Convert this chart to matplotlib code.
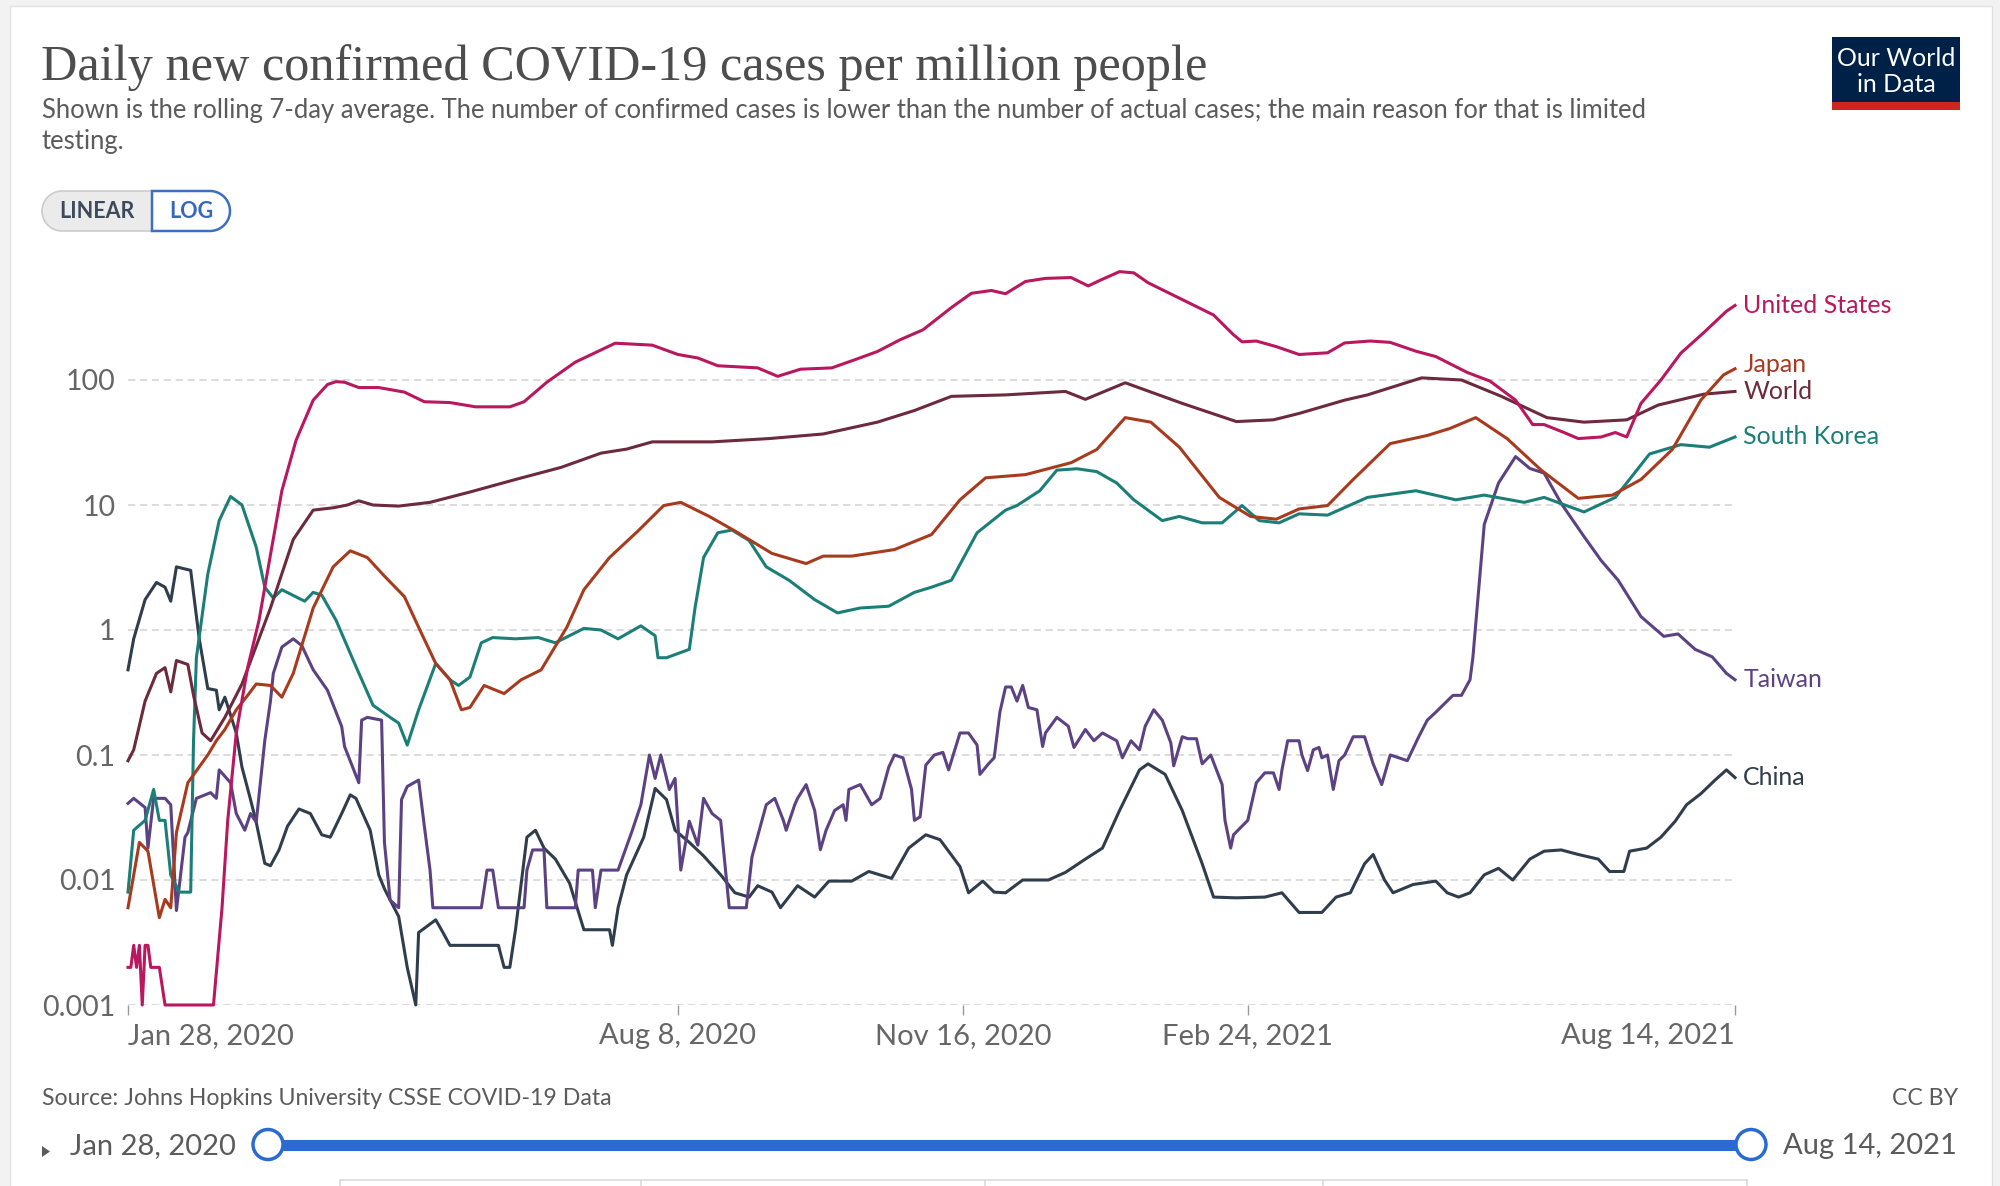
import matplotlib.pyplot as plt
import matplotlib.dates as mdates
from matplotlib.patches import Rectangle, Circle, Polygon
from matplotlib.ticker import NullLocator
import numpy as np

plt.rcParams['font.family'] = ['Lato', 'DejaVu Sans']

start = np.datetime64('2020-01-28')
end = np.datetime64('2021-08-14')

# daily new confirmed cases per million (7-day avg)
# days = days since Jan 28, 2020
us_days = [0, 1, 2, 3, 4, 5, 6, 7, 8, 11, 13, 30, 33, 35, 38, 42, 46, 50, 54, 59, 65,
           70, 73, 76, 81, 88, 97, 104, 113, 122, 134, 139, 147, 157, 171, 184, 193, 200,
           207, 221, 228, 236, 247, 255, 263, 271, 279, 289, 296, 303, 308, 315, 322, 331,
           337, 342, 348, 353, 358, 370, 381, 388, 391, 396, 403, 411, 421, 427, 436, 443,
           452, 459, 470, 478, 487, 493, 497, 504, 509, 517, 522, 526, 531, 538, 545, 553,
           561, 564]
us_vals = [0.002, 0.002, 0.003, 0.002, 0.003, 0.001, 0.003, 0.003, 0.002, 0.002, 0.001,
           0.001, 0.006, 0.03, 0.15, 0.5, 1.2, 4, 13, 33, 69,
           92, 97, 96, 87, 87, 80, 67, 66, 61, 61, 67, 96, 139, 197, 190, 160, 150,
           130, 125, 107, 122, 125, 145, 169, 210, 252, 380, 494, 520, 490, 614, 650, 660,
           566, 640, 736, 720, 600, 440, 331, 230, 202, 205, 185, 160, 165, 198, 205, 200,
           170, 154, 115, 98, 69, 44, 44, 38, 34, 35, 38, 35, 65, 100, 164, 239,
           355, 395]

japan_days = [0, 4, 7, 11, 13, 15, 17, 21, 28, 31, 34, 38, 42, 45, 50, 54, 58, 65, 72, 78,
              84, 90, 97, 103, 108, 113, 117, 120, 125, 132, 138, 145, 154, 160, 169, 179,
              188, 194, 204, 213, 226, 238, 244, 254, 269, 282, 292, 301, 315, 331, 340,
              350, 359, 369, 383, 394, 403, 411, 421, 430, 443, 456, 464, 473, 484, 496,
              509, 521, 531, 542, 552, 560, 564]
japan_vals = [0.006, 0.02, 0.017, 0.005, 0.007, 0.006, 0.024, 0.06, 0.1, 0.13, 0.16, 0.23,
              0.3, 0.37, 0.36, 0.29, 0.45, 1.5, 3.2, 4.3,
              3.8, 2.7, 1.85, 0.94, 0.54, 0.4, 0.23, 0.24, 0.36, 0.31, 0.4, 0.48, 1.05, 2.1,
              3.8, 6.2, 9.9, 10.5, 8.1, 6.2, 4.1, 3.4, 3.9, 3.9, 4.4, 5.8, 11, 16.5, 17.5,
              21.8, 27.8, 50, 46, 29, 11.5, 8.1, 7.7, 9.3, 9.9, 16, 31, 36, 41, 50, 34, 19,
              11.3, 12, 16, 27.8, 69, 110, 123]

world_days = [0, 2, 6, 10, 13, 15, 17, 21, 23, 26, 29, 34, 40, 50, 58, 65, 72, 77, 81, 86,
              95, 106, 120, 136, 152, 166, 175, 184, 205, 225, 244, 263, 276, 289, 308, 329,
              336, 350, 370, 389, 402, 411, 427, 435, 454, 468, 482, 498, 511, 526, 537,
              553, 564]
world_vals = [0.09, 0.11, 0.27, 0.45, 0.5, 0.32, 0.57, 0.53, 0.3, 0.15, 0.13, 0.2, 0.37,
              1.5, 5.3, 9.1, 9.5, 10, 10.8, 10,
              9.8, 10.5, 12.7, 16, 20, 26, 28, 32, 32, 34, 37, 46, 57, 74, 76, 81,
              70, 95, 65, 46.5, 48, 54, 69, 76, 104, 100, 74, 50, 46, 48, 63,
              77, 81]

korea_days = [0, 2, 6, 9, 11, 13, 15, 18, 22, 23, 24, 28, 32, 36, 40, 45, 48, 51, 54, 62,
              65, 68, 73, 80, 86, 92, 95, 98, 102, 108, 113, 116, 120, 124, 128, 136, 144,
              150, 160, 166, 172, 180, 185, 186, 189, 197, 199, 202, 207, 212, 218, 224,
              232, 241, 249, 257, 267, 276, 282, 289, 298, 308, 312, 320, 326, 333, 340,
              347, 353, 363, 369, 377, 384, 391, 397, 404, 411, 421, 435, 452, 466, 476,
              490, 497, 511, 522, 534, 545, 555, 564]
korea_vals = [0.008, 0.025, 0.03, 0.053, 0.03, 0.03, 0.011, 0.008, 0.008, 0.13, 0.6, 2.8,
              7.5, 11.7, 10, 4.6, 2.2, 1.8, 2.1, 1.7,
              2.0, 1.9, 1.2, 0.51, 0.25, 0.2, 0.18, 0.12, 0.23, 0.54, 0.4, 0.36, 0.42, 0.79,
              0.87, 0.85, 0.87, 0.79, 1.03, 1.0, 0.85, 1.08, 0.9, 0.6, 0.6, 0.7, 1.5, 3.8,
              6.0, 6.3, 5.2, 3.2, 2.5, 1.75, 1.37, 1.5, 1.55, 2.0, 2.2, 2.5, 6.0, 9.1, 9.9,
              13, 19, 19.5, 18.5, 15, 11, 7.5, 8.1, 7.2, 7.2, 9.9, 7.5, 7.2, 8.5, 8.3, 11.5,
              13, 11, 12, 10.5, 11.5, 8.8, 11.5, 25.6, 30.4, 29, 35]

taiwan_days = [0, 2, 6, 7, 9, 13, 15, 17, 20, 21, 24, 29, 31, 32, 36, 38, 41, 43, 45, 48,
               50, 51, 54, 58, 61, 65, 70, 75, 76, 81, 82, 84, 89, 90, 92, 95, 96, 98, 102,
               104, 106, 107, 124, 126, 128, 130, 139, 140, 142, 146, 147, 157, 158, 163,
               164, 166, 172, 177, 180, 183, 185, 187, 190, 192, 194, 197, 200, 202, 205,
               208, 211, 217, 219, 224, 227, 230, 231, 234, 235, 238, 241, 243, 245, 248,
               251, 252, 253, 257, 261, 264, 267, 269, 272, 275, 276, 278, 280, 283, 286,
               288, 292, 295, 298, 299, 302, 304, 306, 308, 310, 312, 314, 316, 319, 321,
               322, 326, 330, 332, 336, 339, 342, 347, 349, 352, 355, 357, 360, 363, 366,
               367, 370, 372, 375, 377, 380, 384, 385, 387, 388, 393, 396, 399, 402, 404,
               405, 407, 411, 412, 414, 416, 418, 419, 421, 423, 425, 427, 430, 434, 437,
               440, 443, 446, 449, 453, 456, 459, 465, 468, 471, 472, 475, 476, 481, 487,
               492, 497, 503, 511, 517, 523, 531, 539, 544, 550, 556, 561, 564]
taiwan_vals = [0.041, 0.045, 0.038, 0.018, 0.045, 0.045, 0.04, 0.0057, 0.022, 0.024, 0.045,
               0.05, 0.045, 0.076, 0.06, 0.034, 0.025, 0.034, 0.029, 0.13,
               0.27, 0.45, 0.73, 0.85, 0.75, 0.48, 0.33, 0.169, 0.117, 0.06, 0.19, 0.2, 0.19,
               0.02, 0.0069, 0.006, 0.044, 0.056, 0.063,
               0.027, 0.012, 0.006, 0.006, 0.012, 0.012, 0.006, 0.006, 0.012, 0.0174, 0.0174,
               0.006, 0.006, 0.012, 0.012,
               0.006, 0.012, 0.012, 0.025, 0.04, 0.1, 0.065, 0.1, 0.053, 0.065, 0.012,
               0.0295, 0.019, 0.045, 0.034,
               0.03, 0.006, 0.006, 0.0153, 0.04, 0.045, 0.03, 0.025, 0.04, 0.045, 0.058,
               0.036, 0.0175, 0.025, 0.036,
               0.04, 0.03, 0.053, 0.058, 0.04, 0.045, 0.08, 0.1, 0.095, 0.053, 0.03, 0.032,
               0.083, 0.1, 0.105,
               0.076, 0.15, 0.15, 0.12, 0.07, 0.085, 0.095, 0.22, 0.35, 0.35, 0.27, 0.36,
               0.24, 0.23, 0.117,
               0.15, 0.2, 0.17, 0.115, 0.16, 0.13, 0.15, 0.13, 0.095, 0.13, 0.11, 0.17, 0.23,
               0.19, 0.125,
               0.082, 0.14, 0.135, 0.135, 0.085, 0.1, 0.058, 0.03, 0.018, 0.023, 0.03, 0.06,
               0.072, 0.072, 0.053,
               0.076, 0.13, 0.13, 0.1, 0.075, 0.11, 0.115, 0.095, 0.1, 0.053, 0.09, 0.1,
               0.14, 0.14, 0.085,
               0.058, 0.1, 0.095, 0.09, 0.14, 0.19, 0.22, 0.3, 0.3, 0.4, 0.6, 3.8, 7.0, 15,
               24.4,
               19.6, 18, 10.3, 5.6, 3.6, 2.5, 1.28, 0.89, 0.93, 0.7, 0.61, 0.45, 0.4]

china_days = [0, 2, 6, 10, 13, 15, 17, 22, 25, 28, 31, 32, 34, 38, 40, 43, 45, 48, 50, 53,
              56, 60, 64, 68, 71, 75, 78, 80, 85, 88, 90, 95, 98, 101, 102, 108, 110, 113,
              130, 132, 134, 136, 140, 143, 146, 150, 155, 160, 169, 170, 172, 175, 181,
              185, 189, 192, 197, 202, 208, 213, 218, 221, 226, 229, 235, 241, 246, 254,
              260, 268, 274, 280, 285, 292, 295, 300, 304, 308, 314, 323, 329, 336, 342,
              348, 355, 358, 364, 370, 377, 381, 389, 399, 405, 411, 419, 424, 429, 434,
              437, 441, 444, 451, 459, 463, 467, 471, 476, 481, 486, 492, 497, 503, 509,
              516, 520, 525, 527, 533, 538, 543, 547, 552, 557, 561, 564]
china_vals = [0.48, 0.85, 1.75, 2.4, 2.2, 1.7, 3.2, 3.0, 0.85, 0.34, 0.33, 0.23, 0.29,
              0.15, 0.08, 0.044, 0.029, 0.0136, 0.013, 0.0174,
              0.027, 0.037, 0.034, 0.023, 0.022, 0.034, 0.048, 0.045, 0.025, 0.011, 0.0085,
              0.0051, 0.002, 0.001, 0.0038, 0.0048, 0.004, 0.003,
              0.003, 0.002, 0.002, 0.004, 0.022, 0.025, 0.018, 0.0147, 0.0094, 0.004, 0.004,
              0.003, 0.006, 0.011, 0.022,
              0.054, 0.044, 0.025, 0.02, 0.0156, 0.011, 0.0079, 0.0073, 0.009, 0.008, 0.006,
              0.009, 0.0073, 0.0098, 0.0098,
              0.0117, 0.0103, 0.018, 0.023, 0.021, 0.0128, 0.0079, 0.0098, 0.008, 0.0079,
              0.01, 0.01, 0.0115, 0.0147, 0.018,
              0.036, 0.076, 0.085, 0.07, 0.036, 0.0135, 0.0073, 0.0072, 0.0073, 0.0079,
              0.0055, 0.0055, 0.0073, 0.0079, 0.0135,
              0.016, 0.01, 0.0079, 0.0092, 0.0098, 0.0079, 0.0073, 0.0079, 0.011, 0.0124,
              0.01, 0.0147, 0.017, 0.0174, 0.016,
              0.0147, 0.0117, 0.0117, 0.017, 0.018, 0.022, 0.0295, 0.04, 0.049, 0.063,
              0.076, 0.066]

series = [
    ("China", china_days, china_vals, "#2f3d4d", 0),
    ("Taiwan", taiwan_days, taiwan_vals, "#5c4283", 0),
    ("South Korea", korea_days, korea_vals, "#1b7f78", 0),
    ("World", world_days, world_vals, "#6c2a3c", 0),
    ("Japan", japan_days, japan_vals, "#a83a1e", 3),
    ("United States", us_days, us_vals, "#b9175e", 0),
]

tick_dates = ['2020-01-28', '2020-08-08', '2020-11-16', '2021-02-24', '2021-08-14']
tick_labels = ['Jan 28, 2020', 'Aug 8, 2020', 'Nov 16, 2020', 'Feb 24, 2021', 'Aug 14, 2021']
ytick_vals = [0.001, 0.01, 0.1, 1, 10, 100]
ytick_labels = ['0.001', '0.01', '0.1', '1', '10', '100']

W, H = 2000, 1186
fig = plt.figure(figsize=(20, 11.86), dpi=100)
fig.patch.set_facecolor('#f2f2f2')

# background layer in pixel coordinates (y down)
bg = fig.add_axes([0, 0, 1, 1])
bg.set_xlim(0, W)
bg.set_ylim(H, 0)
bg.axis('off')
bg.set_zorder(0)
bg.add_patch(Rectangle((10, 6), 1982, 1200, fc='white', ec='#e2e2e2', lw=1))


def fit_width(t, width):
    r = fig.canvas.get_renderer()
    w = t.get_window_extent(r).width
    t.set_fontsize(t.get_fontsize() * width / w)


def pill(x0, x1, y0, y1, left=True, right=True):
    r = (y1 - y0) / 2
    yc = (y0 + y1) / 2
    pts = []
    if right:
        th = np.linspace(-np.pi / 2, np.pi / 2, 25)
        pts += list(zip(x1 - r + r * np.cos(th), yc + r * np.sin(th)))
    else:
        pts += [(x1, y0), (x1, y1)]
    if left:
        th = np.linspace(np.pi / 2, 3 * np.pi / 2, 25)
        pts += list(zip(x0 + r + r * np.cos(th), yc + r * np.sin(th)))
    else:
        pts += [(x0, y1), (x0, y0)]
    return pts


title = bg.text(41, 80, "Daily new confirmed COVID-19 cases per million people",
                family=['Liberation Serif'], fontsize=36, color='#4d4d4d', va='baseline')
fit_width(title, 1163)
sub1 = bg.text(42, 118, "Shown is the rolling 7-day average. The number of confirmed cases is "
               "lower than the number of actual cases; the main reason for that is limited",
               fontsize=16, color='#5b5b5b', va='baseline')
fit_width(sub1, 1612)
bg.text(42, 149, "testing.", fontsize=sub1.get_fontsize(), color='#5b5b5b', va='baseline')

# LINEAR / LOG toggle
bg.add_patch(Polygon(pill(42, 152, 191, 231, right=False), closed=True,
                     fc='#ebebeb', ec='#cccccc', lw=1.2))
bg.add_patch(Polygon(pill(152, 230, 191, 231, left=False), closed=True,
                     fc='white', ec='#3b6fc6', lw=1.8))
bg.text(97, 212, "LINEAR", fontsize=15.5, fontweight='bold', color='#3d4a5c',
        ha='center', va='center')
bg.text(191, 212, "LOG", fontsize=15.5, fontweight='bold', color='#3468c0',
        ha='center', va='center')

# logo
bg.add_patch(Rectangle((1832, 37), 128, 65, fc='#002147', ec='none'))
bg.add_patch(Rectangle((1832, 102), 128, 8, fc='#ce261e', ec='none'))
bg.text(1896, 58, "Our World", fontsize=18, color='white', ha='center', va='center')
bg.text(1896, 85, "in Data", fontsize=18, color='white', ha='center', va='center')

# footer
src = bg.text(42, 1105, "Source: Johns Hopkins University CSSE COVID-19 Data",
              fontsize=15, color='#5b5b5b', va='baseline')
fit_width(src, 572)
bg.text(1958, 1105, "CC BY", fontsize=src.get_fontsize(), color='#5b5b5b',
        ha='right', va='baseline')

# timeline slider
bg.add_patch(Polygon([(42, 1146), (42, 1157), (50, 1151.5)], closed=True,
                     fc='#5b5b5b', ec='none'))
bg.text(70, 1146, "Jan 28, 2020", fontsize=21, color='#5b5b5b', va='center')
bg.text(1957, 1146, "Aug 14, 2021", fontsize=21, color='#5b5b5b', ha='right', va='center')
bg.plot([268, 1751], [1144.5, 1144.5], color='#2a6bd1', lw=8, solid_capstyle='butt')
for hx in [268, 1751]:
    bg.add_patch(Circle((hx, 1144.5), 15, fc='white', ec='#2a6bd1', lw=2.5, zorder=5))

# tab bar outline at the very bottom
bg.plot([340, 1747], [1180, 1180], color='#dadada', lw=1.2)
for vx in [340, 641, 985, 1323, 1747]:
    bg.plot([vx, vx], [1180, 1186], color='#dadada', lw=1.2)

# main chart
ax = fig.add_axes([128 / W, (H - 1005) / H, (1735 - 128) / W, 750 / H])
ax.set_zorder(1)
ax.patch.set_alpha(0)
ax.set_yscale('log')
ax.set_ylim(1e-3, 1e3)
ax.set_xlim(mdates.date2num(start), mdates.date2num(end))
for s in ax.spines.values():
    s.set_visible(False)

ax.set_yticks(ytick_vals)
ax.set_yticklabels(ytick_labels)
ax.yaxis.set_minor_locator(NullLocator())
ax.tick_params(axis='y', length=0, pad=9, labelsize=20.5, labelcolor='#666666')
ax.grid(axis='y', which='major', color='#d9d9d9', linestyle=(0, (4, 2.6)), linewidth=1.3)

ax.set_xticks(mdates.date2num(np.array(tick_dates, dtype='datetime64[D]')))
ax.set_xticklabels(tick_labels)
ax.tick_params(axis='x', length=7, width=1, color='#9a9a9a', pad=6,
               labelsize=21, labelcolor='#666666')
xl = ax.get_xticklabels()
xl[0].set_ha('left')
xl[-1].set_ha('right')

for name, days, vals, color, dy in series:
    x = mdates.date2num(start + np.array(days).astype('timedelta64[D]'))
    ax.plot(x, vals, color=color, lw=2.2, clip_on=False, solid_joinstyle='round')
    ax.annotate(name, xy=(x[-1], vals[-1]), xytext=(6, dy), textcoords='offset points',
                va='center', ha='left', color=color, fontsize=18, annotation_clip=False)

fig.savefig('out.png', dpi=100, facecolor=fig.get_facecolor())
